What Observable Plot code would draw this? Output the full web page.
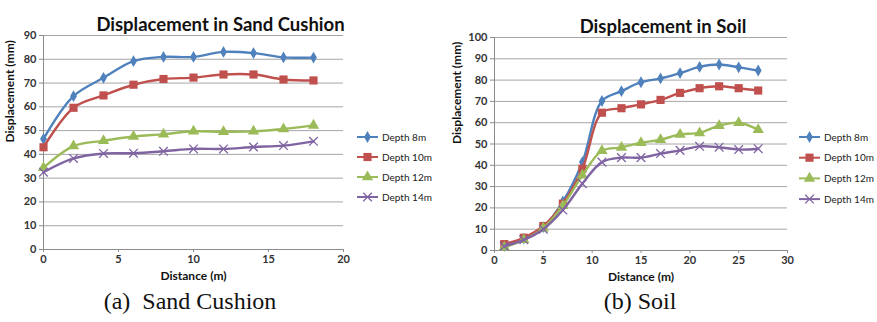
<!DOCTYPE html>
<html>
<head>
<meta charset="utf-8">
<script src="https://cdn.jsdelivr.net/npm/d3@7"></script>
<script src="https://cdn.jsdelivr.net/npm/@observablehq/plot@0.6"></script>
<style>
  html, body { margin: 0; padding: 0; background: #fff; }
  #wrap { position: relative; width: 877px; height: 322px; overflow: hidden; background: #fff; font-family: Lato, "Open Sans", sans-serif; }
  .cap { position: absolute; top: 287px; font-family: "Liberation Serif", "DejaVu Serif", serif; font-size: 24px; line-height: 28px; color: #111; white-space: pre; transform: translateX(-50%); }
  .legend { position: absolute; }
</style>
</head>
<body>
<div id="wrap"></div>
<script>
// ---- data ----
const seriesNames = ["Depth 8m", "Depth 10m", "Depth 12m", "Depth 14m"];
const seriesColors = ["#4f81bd", "#c0504d", "#9bbb59", "#8064a2"];
const seriesSymbols = ["diamond", "square", "triangle", "times"];

// Sand cushion
const sandDistance = [0, 2, 4, 6, 8, 10, 12, 14, 16, 18];
const sand8  = [46.5, 64.5, 72.2, 79.2, 81.0, 81.0, 83.1, 82.6, 80.8, 80.7];
const sand10 = [43.0, 59.6, 64.8, 69.3, 71.7, 72.3, 73.6, 73.6, 71.5, 71.1];
const sand12 = [34.4, 43.5, 45.7, 47.5, 48.5, 49.7, 49.5, 49.7, 50.7, 52.2];
const sand14 = [32.5, 38.3, 40.4, 40.5, 41.3, 42.3, 42.3, 43.1, 43.7, 45.5];
const sandXTicks = [0, 5, 10, 15, 20];
const sandYTicks = [0, 10, 20, 30, 40, 50, 60, 70, 80, 90];

// Soil
const soilDistance = [1, 3, 5, 7, 9, 11, 13, 15, 17, 19, 21, 23, 25, 27];
const soil8  = [2.2, 5.6, 11.0, 23.0, 41.5, 70.2, 74.8, 79.0, 80.8, 83.3, 86.2, 87.3, 86.0, 84.5];
const soil10 = [3.0, 6.0, 11.5, 22.0, 38.4, 64.7, 66.8, 68.6, 70.7, 74.0, 76.2, 77.1, 76.2, 75.1];
const soil12 = [1.5, 5.0, 10.5, 21.0, 35.3, 46.8, 48.4, 50.6, 52.0, 54.5, 55.2, 58.6, 60.0, 56.7];
const soil14 = [2.0, 5.0, 10.0, 19.0, 31.4, 41.5, 43.6, 43.6, 45.5, 47.0, 48.9, 48.5, 47.4, 47.8];
const soilXTicks = [0, 5, 10, 15, 20, 25, 30];
const soilYTicks = [0, 10, 20, 30, 40, 50, 60, 70, 80, 90, 100];

const wrap = document.getElementById("wrap");

function makeChart(opts) {
  const {title, xs, ys, xDomain, yDomain, xTicks, yTicks, margins, titleDx, yLabelDx} = opts;
  const marks = [
    Plot.gridY(yTicks, {stroke: "#a6a6a6", strokeOpacity: 1, strokeWidth: 1}),
    Plot.ruleX([xDomain[0]], {stroke: "#8c8c8c", strokeWidth: 1}),
    Plot.ruleY([yDomain[0]], {stroke: "#8c8c8c", strokeWidth: 1}),
    Plot.axisY(yTicks, {tickSize: 4, tickPadding: 3, stroke: "#8c8c8c", fill: "#333", fontWeight: "bold", fontSize: 11, label: null}),
    Plot.axisX(xTicks, {tickSize: 3, tickPadding: 3, stroke: "#8c8c8c", fill: "#333", fontWeight: "bold", fontSize: 11, label: null}),
  ];
  ys.forEach((vals, k) => {
    const rows = xs.map((x, i) => ({x, y: vals[i]}));
    marks.push(Plot.line(rows, {x: "x", y: "y", stroke: seriesColors[k], strokeWidth: 2.4, curve: "catmull-rom"}));
    const sym = seriesSymbols[k];
    const r = sym === "square" ? 4.6 : sym === "triangle" ? 4.2 : sym === "times" ? 4 : 3.6;
    if (sym === "times") {
      marks.push(Plot.dot(rows, {x: "x", y: "y", symbol: sym, r, stroke: seriesColors[k], strokeWidth: 1.3}));
    } else {
      marks.push(Plot.dot(rows, {x: "x", y: "y", symbol: sym, r, fill: seriesColors[k], stroke: "none"}));
    }
  });
  marks.push(Plot.text([title], {frameAnchor: "top", dy: -18, dx: titleDx, fontSize: 18.5, fontWeight: "bold", fill: "#111"}));
  marks.push(Plot.text(["Distance (m)"], {frameAnchor: "bottom", dy: 30.5, fontSize: 12, fontWeight: "bold", fill: "#111", letterSpacing: 0.4}));
  marks.push(Plot.text(["Displacement (mm)"], {frameAnchor: "left", dx: yLabelDx, rotate: -90, fontSize: 12, fontWeight: "bold", fill: "#111"}));
  const svg = Plot.plot({
    width: 440, height: 292,
    marginLeft: margins[0], marginRight: margins[1], marginTop: margins[2], marginBottom: margins[3],
    x: {domain: xDomain, label: null},
    y: {domain: yDomain, label: null},
    style: {fontFamily: "Lato, 'Open Sans', sans-serif", background: "transparent", overflow: "visible"},
    marks
  });
  return svg;
}

function makeLegend(left, top, spacing) {
  const svg = d3.create("svg").attr("width", 80).attr("height", 90).attr("class", "legend")
    .style("left", left + "px").style("top", top + "px").style("overflow", "visible");
  const symMap = {diamond: d3.symbolDiamond, square: d3.symbolSquare, triangle: d3.symbolTriangle, times: d3.symbolTimes};
  seriesNames.forEach((name, k) => {
    const g = svg.append("g").attr("transform", `translate(0,${6 + k * spacing})`);
    g.append("line").attr("x1", 0).attr("x2", 21).attr("stroke", seriesColors[k]).attr("stroke-width", 2);
    const sym = seriesSymbols[k];
    const r = sym === "square" ? 4.6 : sym === "triangle" ? 4.2 : sym === "times" ? 4 : 3.6;
    const p = g.append("path").attr("transform", "translate(10.5,0)")
      .attr("d", d3.symbol(symMap[sym], Math.PI * r * r)());
    if (sym === "times") p.attr("fill", "none").attr("stroke", seriesColors[k]).attr("stroke-width", 1.3);
    else p.attr("fill", seriesColors[k]);
    g.append("text").attr("x", 25).attr("dy", "0.35em").attr("font-size", 10).attr("fill", "#222")
      .attr("font-family", "Lato, 'Open Sans', sans-serif").text(name);
  });
  return svg.node();
}

const left = makeChart({
  title: "Displacement in Sand Cushion",
  xs: sandDistance, ys: [sand8, sand10, sand12, sand14],
  xDomain: [0, 20], yDomain: [0, 90], xTicks: sandXTicks, yTicks: sandYTicks,
  margins: [43, 97, 35, 43], titleDx: 27, yLabelDx: -33
});
left.style.position = "absolute"; left.style.left = "0px"; left.style.top = "0px";
wrap.appendChild(left);

const right = makeChart({
  title: "Displacement in Soil",
  xs: soilDistance, ys: [soil8, soil10, soil12, soil14],
  xDomain: [0, 30], yDomain: [0, 100], xTicks: soilXTicks, yTicks: soilYTicks,
  margins: [54, 93, 37, 42], titleDx: 22, yLabelDx: -37
});
right.style.position = "absolute"; right.style.left = "440px"; right.style.top = "0px";
wrap.appendChild(right);

wrap.appendChild(makeLegend(357, 131, 20));
wrap.appendChild(makeLegend(799, 131, 20.7));

const capA = document.createElement("div");
capA.className = "cap"; capA.style.left = "190px"; capA.textContent = "(a)  Sand Cushion";
wrap.appendChild(capA);
const capB = document.createElement("div");
capB.className = "cap"; capB.style.left = "640px"; capB.textContent = "(b) Soil";
wrap.appendChild(capB);
</script>
</body>
</html>
